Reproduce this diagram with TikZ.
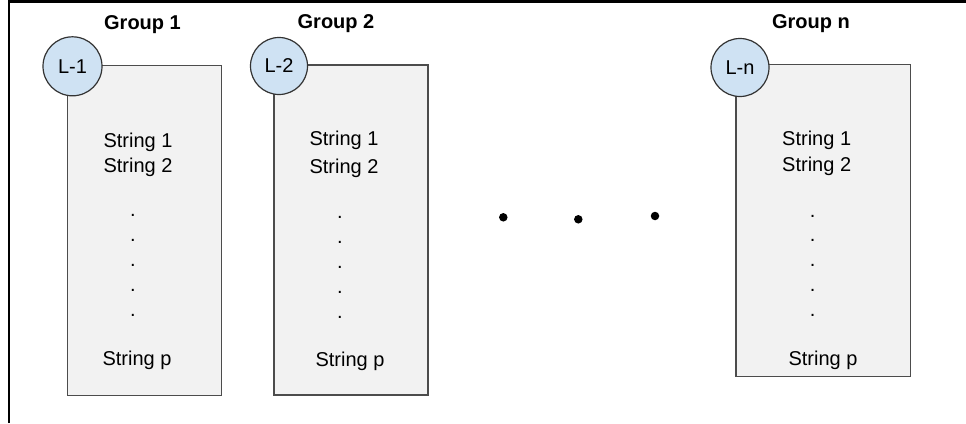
\documentclass[tikz,border=0pt]{standalone}
\usepackage{fontspec}
\setmainfont{Liberation Sans}
\begin{document}
\begin{tikzpicture}[x=1pt,y=-1pt,
  frame/.style={line width=2.6pt, black},
  grpbox/.style={draw=black!70, fill=black!5, line width=1.3pt, rectangle, inner sep=0pt},
  lead/.style={circle, draw=black!80, fill={rgb,255:red,207;green,226;blue,243}, line width=1.2pt, inner sep=0pt, minimum size=58pt, font=\fontsize{20}{24}\selectfont},
  txt/.style={anchor=base, inner sep=0pt, font=\fontsize{20}{24}\selectfont},
  grp/.style={anchor=base, inner sep=0pt, font=\fontsize{20}{24}\selectfont\bfseries},
  bigdot/.style={circle, fill=black, inner sep=0pt, minimum size=8.5pt}
]
\useasboundingbox (0,0) rectangle (966,423);
% frame
\coordinate (fb) at (9,423);
\coordinate (ftl) at (9,1.3);
\coordinate (ftr) at (966,1.3);
\draw[frame] (fb) -- (ftl) -- (ftr);

% boxes
\node[grpbox, minimum width=154pt, minimum height=330pt] (b1) at (144.7,230.8) {};
\node[grpbox, minimum width=154pt, minimum height=330pt] (b2) at (351,230) {};
\node[grpbox, minimum width=174.5pt, minimum height=312.4pt] (bn) at (823.3,220.5) {};

% leaders
\node[lead, minimum size=59pt] (c1) at (72.5,66.3) {L-1};
\node[lead, minimum size=57pt] (c2) at (279,66) {L-2};
\node[lead, minimum size=58pt] (cn) at (740,67.5) {L-n};

% group labels
\node[grp] (g1) at (142.5,29) {Group 1};
\node[grp] (g2) at (336,28.5) {Group 2};
\node[grp] (gn) at (811,28.5) {Group n};

% box 1 contents
\node[txt] (s11) at (138,147) {String 1};
\node[txt] (s12) at (138,172.5) {String 2};
\node[txt] (d11) at (133,216.5) {.};
\node[txt] (d12) at (133,241.5) {.};
\node[txt] (d13) at (133,266.5) {.};
\node[txt] (d14) at (133,291.5) {.};
\node[txt] (d15) at (133,316.5) {.};
\node[txt] (s1p) at (137,365) {String p};

% box 2 contents
\node[txt] (s21) at (344,145.5) {String 1};
\node[txt] (s22) at (344,173) {String 2};
\node[txt] (d21) at (340,218.5) {.};
\node[txt] (d22) at (340,243.5) {.};
\node[txt] (d23) at (340,268) {.};
\node[txt] (d24) at (340,293) {.};
\node[txt] (d25) at (340,318) {.};
\node[txt] (s2p) at (350,366.5) {String p};

% box n contents
\node[txt] (sn1) at (816.7,145.7) {String 1};
\node[txt] (sn2) at (816.7,171.7) {String 2};
\node[txt] (dn1) at (812.7,217) {.};
\node[txt] (dn2) at (812.7,241.5) {.};
\node[txt] (dn3) at (812.7,266.5) {.};
\node[txt] (dn4) at (812.7,291.5) {.};
\node[txt] (dn5) at (812.7,316.5) {.};
\node[txt] (snp) at (823,365) {String p};

% ellipsis dots
\node[bigdot] (e1) at (503.3,217.3) {};
\node[bigdot] (e2) at (578.3,219.3) {};
\node[bigdot] (e3) at (655,216) {};
\end{tikzpicture}
\end{document}
